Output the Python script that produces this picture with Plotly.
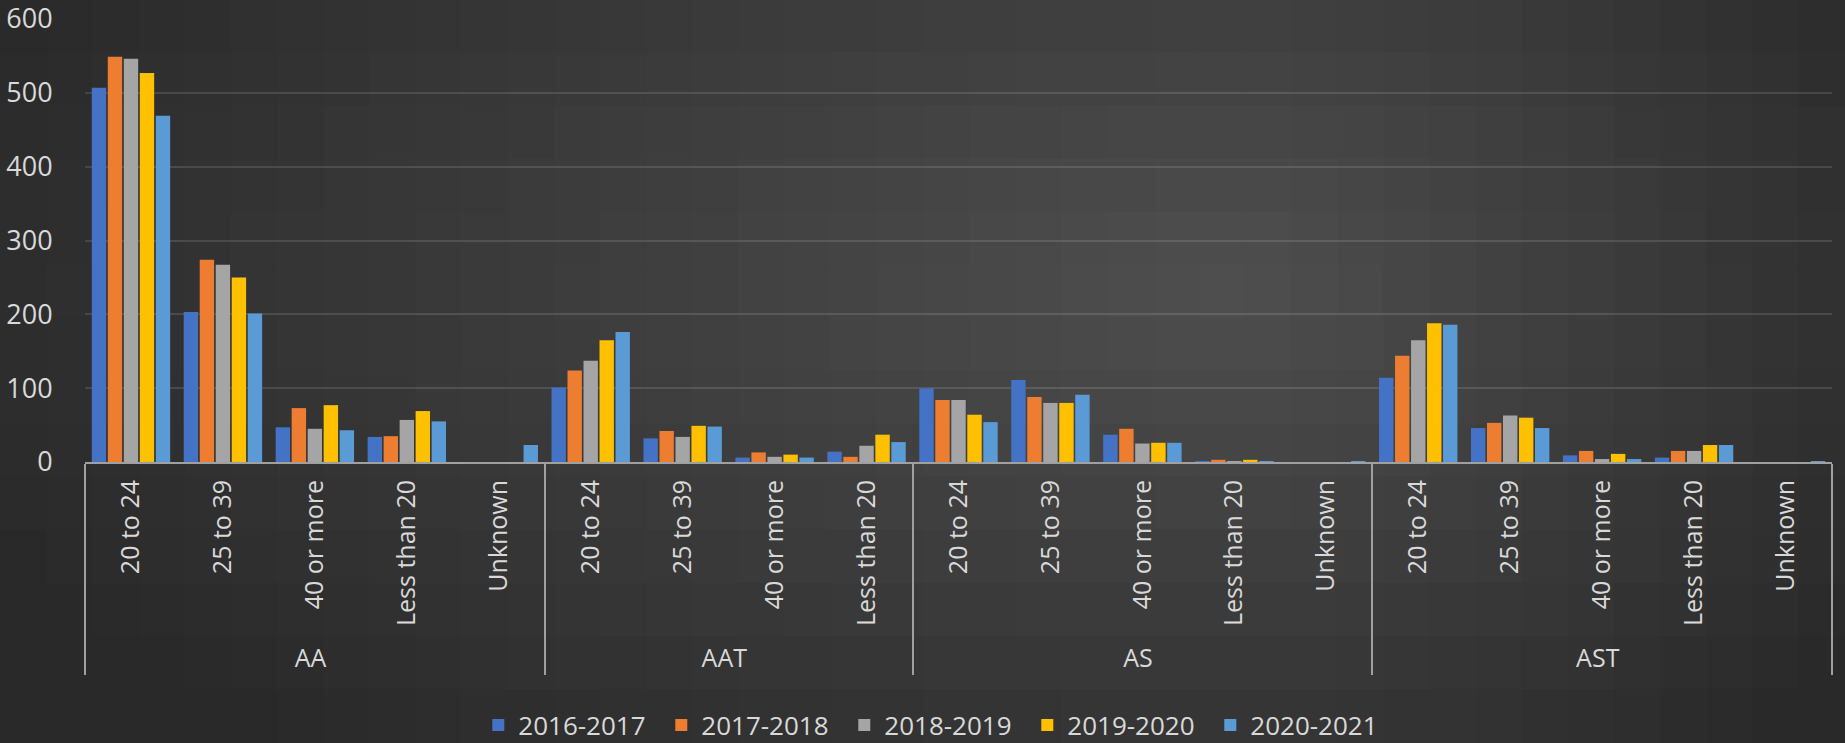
import plotly.graph_objects as go

# x axis: programme groups and age bands
groups = ['AA'] * 5 + ['AAT'] * 4 + ['AS'] * 5 + ['AST'] * 5
ages = ['20 to 24', '25 to 39', '40 or more', 'Less than 20', 'Unknown',
        '20 to 24', '25 to 39', '40 or more', 'Less than 20',
        '20 to 24', '25 to 39', '40 or more', 'Less than 20', 'Unknown',
        '20 to 24', '25 to 39', '40 or more', 'Less than 20', 'Unknown']

years = ['2016-2017', '2017-2018', '2018-2019', '2019-2020', '2020-2021']

y_2016_2017 = [507, 203, 47, 34, 0, 101, 32, 6, 14, 100, 111, 37, 1, 0, 114, 46, 9, 6, 0]
y_2017_2018 = [549, 274, 73, 35, 0, 124, 42, 13, 7, 84, 88, 45, 3, 0, 144, 53, 15, 15, 0]
y_2018_2019 = [546, 267, 45, 57, 0, 137, 34, 7, 22, 84, 80, 25, 1, 0, 165, 63, 4, 15, 0]
y_2019_2020 = [527, 250, 77, 69, 0, 165, 49, 10, 37, 64, 80, 26, 3, 0, 188, 60, 11, 23, 0]
y_2020_2021 = [469, 201, 43, 55, 23, 176, 48, 6, 27, 54, 91, 26, 1, 1, 186, 46, 4, 23, 1]

series = [y_2016_2017, y_2017_2018, y_2018_2019, y_2019_2020, y_2020_2021]
colors = ['#4472C4', '#ED7D31', '#A5A5A5', '#FFC000', '#5B9BD5']

W, H = 1845, 743
L, R, T, B = 85, 13, 19, 281
pw, ph = W - L - R, H - T - B

fig = go.Figure()
for name, vals, col in zip(years, series, colors):
    fig.add_trace(go.Bar(x=[groups, ages], y=vals, name=name,
                         marker=dict(color=col, line=dict(width=0))))


# dark background with soft radial light, drawn as shaded tiles
def px_x(fx):
    return (fx * W - L) / pw


def px_y(fy):
    return (H - fy * H - B) / ph


shapes = []
nx, ny = 40, 14
cx, cy = 0.67, 0.38
for i in range(nx):
    for j in range(ny):
        fx = (i + 0.5) / nx
        fy = (j + 0.5) / ny
        sx = 0.74 if fx < cx else 0.40
        d = (((fx - cx) / sx) ** 2 + ((fy - cy) / 0.85) ** 2) ** 0.5
        v = int(round(79 - 38 * min(d, 1.0)))
        shapes.append(dict(type='rect', xref='paper', yref='paper', layer='below',
                           x0=px_x(i / nx), x1=px_x((i + 1) / nx) + 0.002,
                           y0=px_y((j + 1) / ny), y1=px_y(j / ny) + 0.002,
                           fillcolor=f'rgb({v},{v},{v})', line=dict(width=0)))

fig.update_layout(
    width=W, height=H,
    margin=dict(l=L, r=R, t=T, b=B, autoexpand=False),
    paper_bgcolor='#2e2e2e',
    plot_bgcolor='rgba(0,0,0,0)',
    barmode='group',
    bargap=0.13,
    bargroupgap=0.1,
    shapes=shapes,
    font=dict(family='Open Sans', color='#d9d9d9'),
    legend=dict(orientation='h', xref='paper', x=0.487, xanchor='center',
                yref='container', y=0.024, yanchor='middle',
                font=dict(size=26, color='#d9d9d9'),
                entrywidth=138, itemwidth=30, bgcolor='rgba(0,0,0,0)'),
    showlegend=True,
)
fig.update_yaxes(range=[0, 600], dtick=100, showgrid=True, automargin=False,
                 gridcolor='rgba(255,255,255,0.12)', gridwidth=2,
                 zeroline=False, showline=False,
                 ticks='outside', ticklen=26, tickcolor='rgba(0,0,0,0)',
                 ticklabeloverflow='allow',
                 tickfont=dict(size=27, color='#d9d9d9'))
fig.update_xaxes(tickangle=-90, showline=True, linecolor='#a0a0a0', linewidth=2,
                 automargin=False,
                 showdividers=True, dividercolor='#a0a0a0', dividerwidth=2,
                 ticklabelstandoff=6,
                 tickfont=dict(size=25, color='#d9d9d9'))

fig.write_html("out.html", config={'displayModeBar': False},
               post_script="document.body.style.margin='0';")
